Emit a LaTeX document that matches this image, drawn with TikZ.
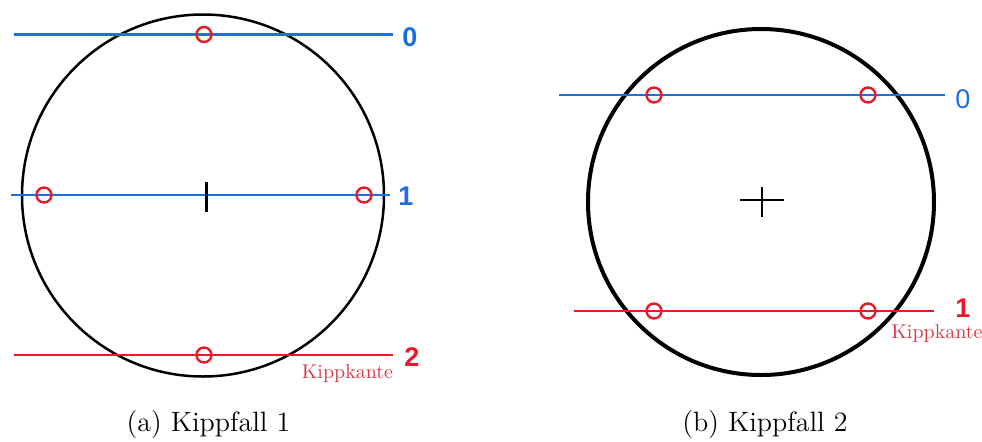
\documentclass[tikz,border=0pt]{standalone}
\usepackage{fontspec}
\newfontfamily\digfont{Liberation Sans}
\definecolor{lblue}{RGB}{30,110,225}
\definecolor{lred}{RGB}{232,25,40}
\definecolor{kred}{RGB}{215,55,70}
\begin{document}
\begin{tikzpicture}[x=0.5pt,y=-0.5pt,
  blueline/.style={draw=lblue,line width=1.45pt},
  redline/.style={draw=lred,line width=1.45pt},
  pt/.style={draw=lred,line width=1.2pt,circle,minimum size=7.5pt,inner sep=0pt},
  num/.style={font=\digfont\bfseries\fontsize{13.5}{15}\selectfont,inner sep=0pt},
  numthin/.style={font=\digfont\fontsize{13.5}{15}\selectfont,inner sep=0pt},
  kk/.style={text=kred,font=\fontsize{10}{12}\selectfont,inner sep=0pt},
  captxt/.style={font=\fontsize{14}{16}\selectfont,inner sep=0pt}]
\useasboundingbox (0,0) rectangle (982,441);
% ---------- (a) ----------
\draw[line width=1.25pt] (203,195.5) circle[radius=181];
\coordinate (a0l) at (14,34.5); \coordinate (a0r) at (393,34.5);
\coordinate (a1l) at (11,195);  \coordinate (a1r) at (390,195);
\coordinate (a2l) at (14,355);  \coordinate (a2r) at (393,355);
\draw[blueline] (a0l) -- (a0r);
\draw[blueline] (a1l) -- (a1r);
\draw[redline] (a2l) -- (a2r);
\draw[line width=1.3pt] (206.5,182) -- (206.5,212);
\node[pt] (pa0) at (204,34.5) {};
\node[pt] (pa1) at (44,195) {};
\node[pt] (pa2) at (364,195) {};
\node[pt] (pa3) at (204,355) {};
\node[num,text=lblue] (na0) at (410,37) {0};
\node[num,text=lblue] (na1) at (406,196) {1};
\node[num,text=lred] (na2) at (412,357) {2};
\node[kk] (ka) at (347.5,373) {Kippkante};
\node[captxt] (capa) at (208.5,425) {(a) Kippfall 1};
% ---------- (b) ----------
\draw[line width=2pt] (761,202) circle[radius=173];
\coordinate (b0l) at (559,95); \coordinate (b0r) at (945,95);
\coordinate (b1l) at (574,311); \coordinate (b1r) at (934,311);
\draw[blueline] (b0l) -- (b0r);
\draw[redline] (b1l) -- (b1r);
\draw[line width=1.2pt] (740,200) -- (784,200);
\draw[line width=1.2pt] (762,187) -- (762,217);
\node[pt] (pb0) at (654,95) {};
\node[pt] (pb1) at (868,95) {};
\node[pt] (pb2) at (654,311) {};
\node[pt] (pb3) at (868,311) {};
\node[numthin,text=lblue] (nb0) at (963,99) {0};
\node[num,text=lred] (nb1) at (963,308) {1};
\node[kk] (kb) at (937,333) {Kippkante};
\node[captxt] (capb) at (765,425) {(b) Kippfall 2};
\end{tikzpicture}
\end{document}
